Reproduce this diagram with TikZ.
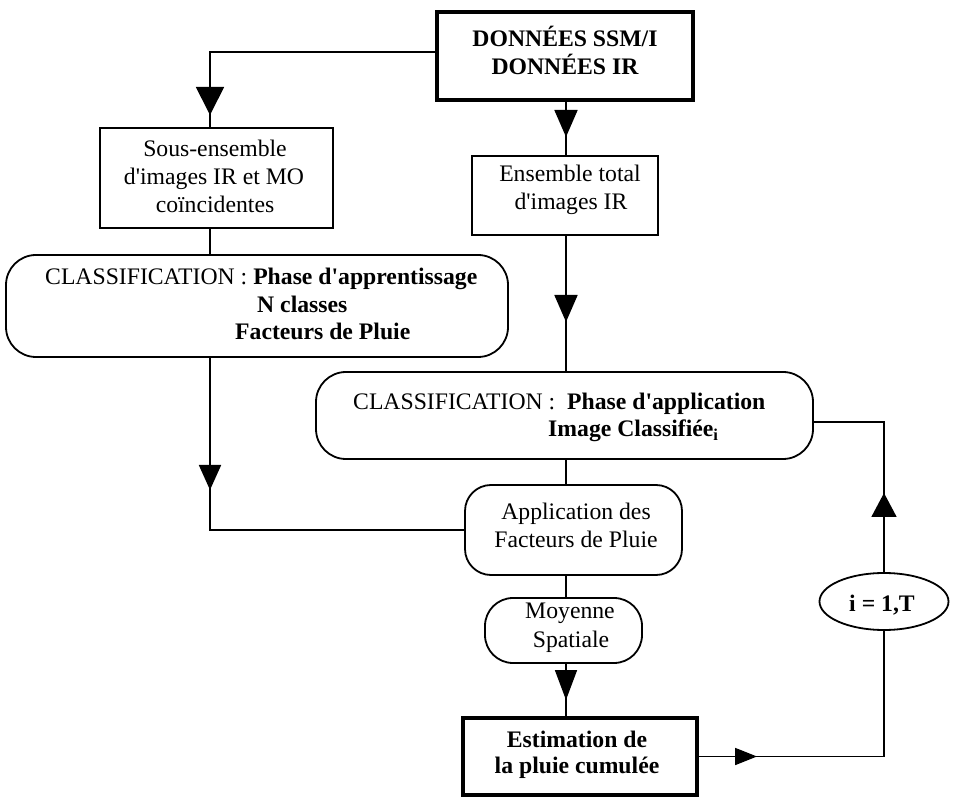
\documentclass[tikz,border=0pt]{standalone}
\usepackage{fontspec}
\setmainfont{Liberation Serif}
\usetikzlibrary{arrows.meta,decorations.markings,shapes.geometric}
\newcommand{\sq}{\textquotesingle}
\begin{document}
\begin{tikzpicture}[x=1pt,y=-1pt,
  shp/.style={draw, line width=1.8pt, inner sep=0pt, outer sep=0pt},
  sqbox/.style={shp, rectangle},
  thickbox/.style={shp, rectangle, line width=4pt},
  rbox/.style={shp, rectangle, rounded corners=#1},
  oval/.style={shp, ellipse},
  lbl/.style={inner sep=0pt, font=\fontsize{23.7}{28.5}\selectfont},
  conn/.style={line width=1.8pt},
  midarr/.style n args={3}{postaction={decorate}, decoration={markings, mark=at position #1 with {\arrow{Triangle[length=#2,width=#3]}}}}
]
\useasboundingbox (0,0) rectangle (954,799);

% shapes
\node[thickbox, minimum width=256pt, minimum height=88pt] (donn) at (565,56) {};
\node[sqbox, minimum width=233pt, minimum height=100pt] (sous) at (216.5,178) {};
\node[sqbox, minimum width=186pt, minimum height=79pt] (ens) at (565,195.5) {};
\node[rbox=30pt, minimum width=502pt, minimum height=102pt] (appr) at (257,306) {};
\node[rbox=30pt, minimum width=497pt, minimum height=87pt] (capp) at (564.5,415.5) {};
\node[rbox=26pt, minimum width=217pt, minimum height=90pt] (appl) at (573.5,530) {};
\node[rbox=28pt, minimum width=157pt, minimum height=65pt] (moy) at (563.5,630.5) {};
\node[thickbox, minimum width=234pt, minimum height=77pt] (est) at (580,756.5) {};
\node[oval, minimum width=129pt, minimum height=57pt] (ell) at (884,601.5) {};

% texts
\node[lbl, anchor=base] (t1) at (565,47) {\bfseries DONNÉES SSM/I};
\node[lbl, anchor=base] (t2) at (565,75) {\bfseries DONNÉES IR};
\node[lbl, anchor=base] (t3) at (215,157) {Sous-ensemble};
\node[lbl, anchor=base] (t4) at (214,185) {d\sq images IR et MO};
\node[lbl, anchor=base] (t5) at (215,213) {coïncidentes};
\node[lbl, anchor=base] (t6) at (570,182) {Ensemble total};
\node[lbl, anchor=base] (t7) at (571,210) {d\sq images IR};
\node[lbl, anchor=base west] (t8) at (45,285) {CLASSIFICATION : \textbf{Phase d\sq apprentissage}};
\node[lbl, anchor=base west] (t9) at (257,313) {\bfseries N classes};
\node[lbl, anchor=base west] (t10) at (235,340) {\bfseries Facteurs de Pluie};
\node[lbl, anchor=base west] (t11) at (353,410) {CLASSIFICATION :\ \ \textbf{Phase d\sq application}};
\node[lbl, anchor=base west] (t12) at (548,437) {\bfseries Image Classifiée\textsubscript{i}};
\node[lbl, anchor=base] (t13) at (576,520) {Application des};
\node[lbl, anchor=base] (t14) at (576,548) {Facteurs de Pluie};
\node[lbl, anchor=base] (t15) at (570,618) {Moyenne};
\node[lbl, anchor=base] (t16) at (571,647) {Spatiale};
\node[lbl, anchor=base] (t17) at (577,747) {\bfseries Estimation de};
\node[lbl, anchor=base] (t18) at (577,773) {\bfseries la pluie cumulée};
\node[lbl, anchor=base] (t19) at (882,612) {\bfseries i = 1,T};

% helper coordinates
\coordinate (xl) at (210,0);
\coordinate (xm) at (566,0);
\coordinate (ya) at (0,52);
\coordinate (yb) at (0,422);

% connectors
\draw[conn, midarr={290pt}{28pt}{28pt}] (donn.west |- ya) -| (sous.north -| xl);
\draw[conn, midarr={37pt}{27pt}{23pt}] (donn.south -| xm) -- (ens.north -| xm);
\draw[conn] (sous.south -| xl) -- (appr.north -| xl);
\draw[conn, midarr={87pt}{27pt}{23pt}] (ens.south -| xm) -- (capp.north -| xm);
\draw[conn, midarr={133pt}{25pt}{22pt}] (appr.south -| xl) |- (appl.west);
\draw[conn] (capp.south -| xm) -- (appl.north -| xm);
\draw[conn] (appl.south -| xm) -- (moy.north -| xm);
\draw[conn, midarr={37pt}{30pt}{22pt}] (moy.south -| xm) -- (est.north -| xm);
\draw[conn, midarr={60pt}{22pt}{17pt}] (est.east) -| (ell.south);
\draw[conn, midarr={80pt}{24pt}{25pt}] (ell.north) |- (capp.east |- yb);
\end{tikzpicture}
\end{document}
